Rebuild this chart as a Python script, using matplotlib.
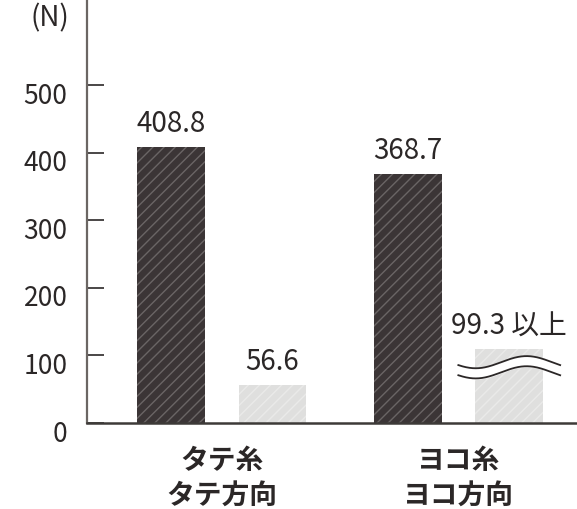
import numpy as np
import matplotlib.pyplot as plt
import matplotlib.transforms as mtransforms

plt.rcParams['font.family'] = ['Noto Sans CJK JP', 'DejaVu Sans']
plt.rcParams['hatch.linewidth'] = 1.0

# data
groups = ['タテ糸\nタテ方向', 'ヨコ糸\nヨコ方向']
dark_vals = [408.8, 368.7]
light_vals = [56.6, 99.3]
dark_labels = ['408.8', '368.7']
light_labels = ['56.6', '99.3 以上']
light_draw = [56.6, 110]   # second bar is drawn with a break mark
yticks = [0, 100, 200, 300, 400, 500]

text_c = '#2b2727'
dark_c = '#3b3536'
light_c = '#dfdfde'

fig = plt.figure(figsize=(5.77, 5.09), dpi=100)
ax = fig.add_axes([87 / 577, 86 / 509, 490 / 577, 423 / 509])

x = np.arange(len(groups))
off = 0.2144
w = 0.287

ax.bar(x - off, dark_vals, w, color=dark_c, edgecolor='#6a6565', linewidth=0, hatch='///')
ax.bar(x + off, light_draw, w, color=light_c, edgecolor='#eaeae9', linewidth=0, hatch='///')

for i in range(len(groups)):
    ax.text(x[i] - off, dark_vals[i] + 11, dark_labels[i], ha='center', va='bottom',
            fontsize=20, color=text_c)
    ax.text(x[i] + off, light_draw[i] + 11, light_labels[i], ha='center', va='bottom',
            fontsize=20, color=text_c)

# break mark on the second light bar
xc = x[1] + off
xs = np.linspace(xc - 0.215, xc + 0.215, 200)
wave = -9 * np.sin((xs - (xc - 0.215)) / 0.43 * 2 * np.pi + 0.5)
upper = 90 + wave
lower = 75 + wave
ax.fill_between(xs, lower, upper, color='white', zorder=3)
ax.plot(xs, upper, color=text_c, lw=1.3, zorder=4)
ax.plot(xs, lower, color=text_c, lw=1.3, zorder=4)

ax.set_xlim(-0.569, 1.5005)
ax.set_ylim(0, 626)
ax.set_yticks(yticks)
ax.set_xticks([])
ax.tick_params(axis='y', direction='in', length=12, width=1.2, color='#2b2727',
               labelsize=19, labelcolor=text_c, pad=14)

# tick labels sit a little below their ticks in the original
shift = mtransforms.ScaledTranslation(0, -8 / 100, fig.dpi_scale_trans)
for lab in ax.get_yticklabels():
    lab.set_transform(lab.get_transform() + shift)

for s in ['top', 'right']:
    ax.spines[s].set_visible(False)
ax.spines['left'].set_color('#6b6663')
ax.spines['left'].set_linewidth(1.6)
ax.spines['bottom'].set_color('#3d3a38')
ax.spines['bottom'].set_linewidth(1.8)

for i, g in enumerate(groups):
    ax.text(x[i], -36, g, ha='center', va='top', fontsize=20, fontweight='bold',
            color=text_c, linespacing=1.3)

fig.text(50 / 577, 1 - 18 / 509, '(N)', ha='center', va='center', fontsize=20, color=text_c)

fig.savefig('out.png', dpi=100)
